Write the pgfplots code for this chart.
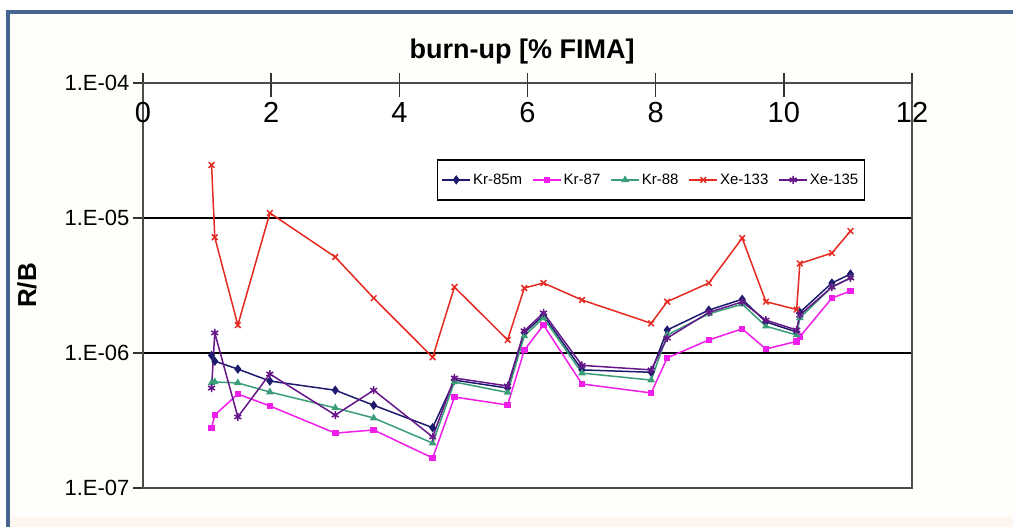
\documentclass[border=0pt]{standalone}
\usepackage{pgfplots}
\pgfplotsset{compat=1.18}
\usepackage{pgfplotstable}
\usepackage{fontspec}
\setmainfont{Liberation Sans}
\definecolor{frameblue}{HTML}{46658F}
\definecolor{krA}{HTML}{1E1B6E}
\definecolor{krB}{HTML}{F01EEB}
\definecolor{krC}{HTML}{3A9E78}
\definecolor{xeA}{HTML}{E52A22}
\definecolor{xeB}{HTML}{66178A}
\definecolor{bgcream}{HTML}{FFFEFA}
\definecolor{bgstrip}{HTML}{FCF6EE}
\definecolor{tickgray}{HTML}{333333}

\pgfplotstableread{
x     kr85m   kr87    kr88    xe133   xe135
1.07  9.6e-7  2.78e-7 6.0e-7  2.47e-5 5.5e-7
1.12  8.7e-7  3.47e-7 6.1e-7  7.2e-6  1.41e-6
1.48  7.6e-7  4.97e-7 6.0e-7  1.61e-6 3.36e-7
1.98  6.2e-7  4.05e-7 5.14e-7 1.09e-5 6.99e-7
3.00  5.3e-7  2.55e-7 3.92e-7 5.14e-6 3.47e-7
3.60  4.1e-7  2.69e-7 3.3e-7  2.55e-6 5.3e-7
4.52  2.8e-7  1.67e-7 2.15e-7 9.3e-7  2.39e-7
4.86  6.3e-7  4.72e-7 6.1e-7  3.08e-6 6.53e-7
5.69  5.5e-7  4.12e-7 5.1e-7  1.25e-6 5.7e-7
5.95  1.41e-6 1.05e-6 1.34e-6 3.03e-6 1.46e-6
6.25  1.9e-6  1.61e-6 1.82e-6 3.3e-6  1.98e-6
6.85  7.5e-7  5.9e-7  7.1e-7  2.47e-6 8.1e-7
7.93  7.2e-7  5.06e-7 6.3e-7  1.66e-6 7.5e-7
8.18  1.48e-6 9.2e-7  1.36e-6 2.4e-6  1.29e-6
8.83  2.08e-6 1.25e-6 1.95e-6 3.3e-6  2.0e-6
9.35  2.5e-6  1.51e-6 2.3e-6  7.1e-6  2.39e-6
9.72  1.7e-6  1.07e-6 1.58e-6 2.4e-6  1.75e-6
10.20 1.43e-6 1.22e-6 1.36e-6 2.1e-6  1.48e-6
10.25 2.0e-6  1.32e-6 1.82e-6 4.6e-6  1.91e-6
10.75 3.3e-6  2.55e-6 3.08e-6 5.5e-6  3.08e-6
11.04 3.85e-6 2.88e-6 3.6e-6  8.0e-6  3.6e-6
}\data

\begin{document}
\begin{tikzpicture}
\path[use as bounding box, fill=white] (0pt,0pt) rectangle (1013pt,527pt);
\fill[bgcream] (8pt,0pt) rectangle (1013pt,515pt);
\fill[bgstrip] (8pt,0pt) rectangle (1013pt,10pt);
\draw[frameblue, line width=4pt] (8pt,0pt) -- (8pt,515pt) -- (1013pt,515pt);
\begin{axis}[
  at={(143pt,39pt)}, anchor=south west, scale only axis,
  width=769pt, height=405pt,
  xmin=0, xmax=12, ymin=1e-7, ymax=1e-4, ymode=log,
  clip=false,
  xtick={0,2,...,12},
  ytick={1e-7,1e-6,1e-5,1e-4},
  yticklabels={1.E-07,1.E-06,1.E-05,1.E-04},
  yminorticks=false,
  xtick pos=right, xticklabel pos=right, ytick pos=left,
  tick align=outside,
  major tick length=10pt,
  tick style={draw=tickgray, line width=1.6pt},
  axis line style={line width=1.5pt, black!70},
  axis background/.style={fill=white},
  ymajorgrids, grid style={line width=2.5pt, black},
  /pgf/number format/assume math mode=true,
  yticklabel style={font=\fontsize{22}{22}\selectfont},
  xticklabel style={font=\fontsize{29}{29}\selectfont, anchor=north, yshift=-26pt},
  title={burn-up [\% FIMA]},
  title style={font=\fontsize{27}{27}\selectfont\bfseries, at={(axis description cs:0.493,1.064)}, anchor=center},
  ylabel={R/B},
  ylabel style={font=\fontsize{26}{26}\selectfont\bfseries, at={(axis description cs:-0.151,0.5)}, anchor=center},
  legend style={at={(axis description cs:0.382,0.812)}, anchor=north west,
    legend columns=5, font=\fontsize{15}{15}\selectfont, draw=black, line width=1.5pt,
    inner xsep=4pt, inner ysep=12pt, fill=white,
    /tikz/every even column/.append style={column sep=8pt}},
  legend image code/.code={\draw[mark repeat=2,mark phase=2,#1] plot coordinates {(0pt,0pt)(14pt,0pt)(28pt,0pt)};},
]
\addplot[krA, line width=1.5pt, mark=diamond*, mark size=3.5pt] table[x=x,y=kr85m]{\data};
\addlegendentry{Kr-85m}
\addplot[krB, line width=1.5pt, mark=square*, mark size=2.5pt] table[x=x,y=kr87]{\data};
\addlegendentry{Kr-87}
\addplot[krC, line width=1.5pt, mark=triangle*, mark size=3pt] table[x=x,y=kr88]{\data};
\addlegendentry{Kr-88}
\addplot[xeA, line width=1.5pt, mark=x, mark size=4pt] table[x=x,y=xe133]{\data};
\addlegendentry{Xe-133}
\addplot[xeB, line width=1.5pt, mark=asterisk, mark size=4pt] table[x=x,y=xe135]{\data};
\addlegendentry{Xe-135}
\draw[tickgray, line width=1.6pt] (rel axis cs:0.16667,1) -- ++(0pt,-14pt);
\draw[tickgray, line width=1.6pt] (rel axis cs:0.33333,1) -- ++(0pt,-14pt);
\draw[tickgray, line width=1.6pt] (rel axis cs:0.5,1) -- ++(0pt,-14pt);
\draw[tickgray, line width=1.6pt] (rel axis cs:0.66667,1) -- ++(0pt,-14pt);
\draw[tickgray, line width=1.6pt] (rel axis cs:0.83333,1) -- ++(0pt,-14pt);
\end{axis}
\end{tikzpicture}
\end{document}
